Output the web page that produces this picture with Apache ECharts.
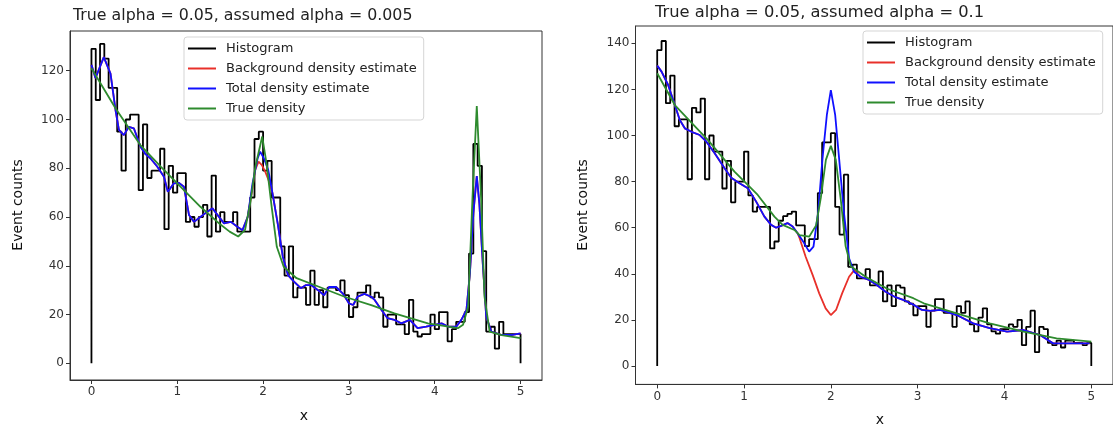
<!DOCTYPE html>
<html><head><meta charset="utf-8">
<script src="https://cdn.jsdelivr.net/npm/echarts@6/dist/echarts.min.js"></script>
<style>html,body{margin:0;padding:0;background:#fff}#c{width:1113px;height:426px}</style>
</head><body><div id="c"></div>
<script>
// ---- Data ----
const binStart = 0, binWidth = 0.05;
const xTicks = [0, 1, 2, 3, 4, 5];
const yTicksLeft = [0, 20, 40, 60, 80, 100, 120];
const yTicksRight = [0, 20, 40, 60, 80, 100, 120, 140];
const titleLeft = 'True alpha = 0.05, assumed alpha = 0.005';
const titleRight = 'True alpha = 0.05, assumed alpha = 0.1';
const seriesNames = ['Histogram', 'Background density estimate', 'Total density estimate', 'True density'];

// Left panel histogram counts (100 bins on [0,5])
const histLeft = [129,108,131,125,113,113,95,79,100,102,
  102,71,98,76,79,79,88,55,81,70,
  78,78,58,60,56,60,65,52,77,54,
  62,58,58,62,54,54,54,68,92,95,
  79,83,68,68,48,36,48,27,31,31,
  24,38,24,30,23,31,31,30,34,28,
  19,23,29,29,32,27,29,27,15,20,
  20,16,16,12,26,13,11,12,12,20,
  14,21,21,9,14,17,17,21,45,90,
  81,46,13,15,6,17,12,12,12,12];
// Left panel curves
const trueLeftX = [0,0.28,0.57,0.81,1.04,1.27,1.5,1.61,1.71,1.79,1.85,1.91,1.99,2.04,2.10,2.16,2.24,2.39,2.65,2.95,3.26,3.53,3.92,4.27,4.33,4.39,4.44,4.49,4.54,4.58,4.64,4.78,5.0];
const trueLeftY = [121,104.6,89.5,80.6,72.4,64.2,57,54,52,54.7,65.6,80.6,93,82,64.2,47.8,39.6,34.9,31.4,27.3,23.9,20.5,16.4,14.4,15.8,23.3,68,105.5,68,27.3,13,11.6,10.3];
const totalLeftX = [0,0.047,0.144,0.222,0.28,0.32,0.377,0.436,0.494,0.572,0.63,0.689,0.768,0.845,0.89,0.96,1.02,1.078,1.137,1.195,1.273,1.35,1.41,1.466,1.545,1.624,1.70,1.76,1.82,1.877,1.936,1.966,2.01,2.06,2.11,2.17,2.23,2.29,2.36,2.44,2.5,2.56,2.64,2.71,2.77,2.85,2.93,3.0,3.05,3.10,3.18,3.26,3.30,3.38,3.45,3.53,3.61,3.71,3.80,3.90,4.0,4.08,4.16,4.25,4.31,4.37,4.41,4.45,4.49,4.52,4.56,4.60,4.66,4.78,4.89,5.0];
const totalLeftY = [122.4,117,125.6,118.8,104,95.7,93.6,97,96.4,88.8,85.8,84,80.6,76.5,70.4,73.8,74,72.4,60.8,58,60.1,62.2,63.6,61,57.4,58,56,54.6,60,73.8,84,86.8,84,79.3,69.7,57.4,43.7,36.2,33.5,30.8,32.1,32.1,30,27.9,31.3,31.3,28.6,24.6,23.9,27.3,28.5,27.3,26,21.9,18.5,17.8,16.4,17.8,14.4,15,15.8,16.4,15,15,17.8,21.9,37,61.5,76.8,65.6,41,19.1,13,11.6,11.6,12.3];
const bgLeftX = [0,0.047,0.144,0.222,0.28,0.32,0.377,0.436,0.494,0.572,0.63,0.689,0.768,0.845,0.89,0.96,1.02,1.078,1.137,1.195,1.273,1.35,1.41,1.466,1.545,1.624,1.70,1.76,1.82,1.877,1.908,1.947,1.986,2.025,2.063,2.11,2.17,2.23,2.29,2.36,2.44,2.5,2.56,2.64,2.71,2.77,2.85,2.93,3.0,3.05,3.10,3.18,3.26,3.30,3.38,3.45,3.53,3.61,3.71,3.80,3.90,4.0,4.08,4.16,4.25,4.31,4.37,4.41,4.45,4.49,4.52,4.56,4.60,4.66,4.78,4.89,5.0];
const bgLeftY = [122.4,117,125.6,118.8,104,95.7,93.6,97,96.4,88.8,85.8,84,80.6,76.5,70.4,73.8,74,72.4,60.8,58,60.1,62.2,63.6,61,57.4,58,56,54.6,60,72,79.3,82.7,81.3,78.6,75.2,69.7,57.4,43.7,36.2,33.5,30.8,32.1,32.1,30,27.9,31.3,31.3,28.6,24.6,23.9,27.3,28.5,27.3,26,21.9,18.5,17.8,16.4,17.8,14.4,15,15.8,16.4,15,15,17.8,21.9,37,61.5,76.8,65.6,41,19.1,13,11.6,11.6,12.3];

// Right panel histogram counts
const histRight = [137,141,114,126,104,107,107,81,112,110,
  116,81,100,93,93,77,89,71,80,80,
  93,74,67,69,69,69,51,54,63,65,
  66,67,61,61,52,55,55,75,97,97,
  101,69,57,83,43,44,38,38,42,35,
  35,41,28,35,26,35,34,28,27,22,
  26,26,17,24,29,29,23,23,17,26,
  23,28,18,15,21,25,18,15,14,16,
  16,18,17,20,9,17,24,6,17,16,
  10,9,11,8,11,11,10,10,9,10];
const trueRightX = [0,0.203,0.585,0.89,1.158,1.35,1.445,1.58,1.64,1.75,1.83,1.885,1.943,2.0,2.057,2.115,2.17,2.23,2.40,2.65,2.95,3.07,3.45,3.83,4.22,4.60,5.0];
const trueRightY = [127,113.2,98,84.3,74.2,64.8,61.2,59,56.8,56.1,61,73,89.4,95.5,89.4,72,52,43.3,38.7,33.5,29.4,27.2,22.8,18.5,14.9,12,10.6];
const totalRightX = [0,0.05,0.126,0.203,0.26,0.318,0.395,0.49,0.567,0.662,0.776,0.853,0.948,1.044,1.14,1.235,1.312,1.37,1.427,1.50,1.56,1.617,1.694,1.75,1.80,1.854,1.904,1.954,2.0,2.05,2.095,2.15,2.21,2.267,2.34,2.44,2.53,2.63,2.73,2.84,2.955,3.05,3.15,3.26,3.45,3.64,3.83,4.03,4.22,4.41,4.56,4.75,4.98];
const totalRightY = [130.3,127.7,121.9,113.2,106.7,103.1,101.6,100.2,97.3,92.3,85.8,81.7,79.3,77.1,71.3,64.8,61.2,60,60.8,62,60.5,57.6,53.2,49.6,51.8,66.9,90.1,108.9,119.7,108.9,90.1,66.9,46.7,40.9,38.7,37.3,35.1,32.2,30.1,28.6,26.5,24.3,23.9,24.3,22.1,18.5,16.4,14.9,15.6,13.4,9.8,9.8,9.8];
const bgRightX = [0,0.05,0.126,0.203,0.26,0.318,0.395,0.49,0.567,0.662,0.776,0.853,0.948,1.044,1.14,1.235,1.312,1.37,1.427,1.50,1.56,1.617,1.64,1.71,1.79,1.866,1.94,2.0,2.06,2.13,2.21,2.27,2.34,2.44,2.53,2.63,2.73,2.84,2.955,3.05,3.15,3.26,3.45,3.64,3.83,4.03,4.22,4.41,4.56,4.75,4.98];
const bgRightY = [130.3,127.7,121.9,113.2,106.7,103.1,101.6,100.2,97.3,92.3,85.8,81.7,79.3,77.1,71.3,64.8,61.2,60,60.8,62,60.5,57.6,55.4,47.4,39.5,31.5,25,22.1,24.3,31.5,38.7,41.6,38.7,37.3,35.1,32.2,30.1,28.6,26.5,24.3,23.9,24.3,22.1,18.5,16.4,14.9,15.6,13.4,9.8,9.8,9.8];

// ---- Build ----
const FONT = 'DejaVu Sans';
const COLORS = ['#000000', '#e8302a', '#1010ff', '#2e8b2e'];
function stepData(counts) {
  const pts = [[binStart, 0]];
  counts.forEach((c, i) => pts.push([binStart + i * binWidth, c]));
  const end = binStart + counts.length * binWidth;
  pts.push([end, counts[counts.length - 1]]);
  pts.push([end, 0]);
  return pts;
}
const zip = (xs, ys) => xs.map((x, i) => [x, ys[i]]);

function axisCommon(ticks) {
  return {
    splitLine: { show: false },
    axisLine: { show: true, onZero: false, lineStyle: { color: '#333', width: 1 } },
    axisTick: { show: true, inside: false, length: 4, customValues: ticks, lineStyle: { color: '#333' } },
    axisLabel: { customValues: ticks, fontFamily: FONT, fontSize: 12, color: '#333', margin: 6 }
  };
}
function xAxisCfg(idx) {
  return Object.assign({ type: 'value', gridIndex: idx, min: -0.25, max: 5.25 }, axisCommon(xTicks));
}
function yAxisCfg(idx, min, max, ticks) {
  return Object.assign({ type: 'value', gridIndex: idx, min: min, max: max }, axisCommon(ticks));
}
function lineSeries(name, data, idx, color, width, step) {
  const s = {
    name: name, type: 'line', xAxisIndex: idx, yAxisIndex: idx, data: data,
    symbol: 'none', showSymbol: false, color: color,
    lineStyle: { color: color, width: width }, silent: true, animation: false
  };
  if (step) s.step = 'end';
  return s;
}
function legendCfg(left, top) {
  return {
    show: true, data: seriesNames, orient: 'vertical', left: left, top: top,
    icon: 'rect', itemWidth: 28, itemHeight: 2, itemGap: 5,
    padding: [4, 7, 4, 4],
    backgroundColor: 'rgba(255,255,255,0.85)', borderColor: '#d5d5d5', borderWidth: 1, borderRadius: 3,
    textStyle: { fontFamily: FONT, fontSize: 13, color: '#222', lineHeight: 15, padding: [0, 0, 0, 5] },
    selectedMode: false
  };
}

const chart = echarts.init(document.getElementById('c'), null, { renderer: 'canvas' });
chart.setOption({
  backgroundColor: '#fff',
  animation: false,
  title: [
    { text: titleLeft, left: 68, top: 3, textStyle: { fontFamily: FONT, fontSize: 15.8, fontWeight: 'normal', color: '#222' } },
    { text: titleRight, left: 650, top: 0, textStyle: { fontFamily: FONT, fontSize: 16.3, fontWeight: 'normal', color: '#222' } }
  ],
  grid: [
    { left: 70, top: 31, width: 472, height: 349, show: true, borderColor: '#333', borderWidth: 1, backgroundColor: 'transparent' },
    { left: 635.5, top: 26, width: 479.6, height: 358.4, show: true, borderColor: '#333', borderWidth: 1, backgroundColor: 'transparent' }
  ],
  xAxis: [xAxisCfg(0), xAxisCfg(1)],
  yAxis: [yAxisCfg(0, -6.85, 136.3, yTicksLeft), yAxisCfg(1, -8, 147.5, yTicksRight)],
  legend: [legendCfg(184, 37), legendCfg(863, 31)],
  graphic: [
    { type: 'text', x: 18, y: 205, rotation: Math.PI / 2, style: { text: 'Event counts', fontFamily: FONT, fontSize: 14, fill: '#111', align: 'center', verticalAlign: 'middle' } },
    { type: 'text', x: 583, y: 205, rotation: Math.PI / 2, style: { text: 'Event counts', fontFamily: FONT, fontSize: 14, fill: '#111', align: 'center', verticalAlign: 'middle' } },
    { type: 'text', x: 304, y: 416, style: { text: 'x', fontFamily: FONT, fontSize: 14, fill: '#111', align: 'center', verticalAlign: 'middle' } },
    { type: 'text', x: 880, y: 420, style: { text: 'x', fontFamily: FONT, fontSize: 14, fill: '#111', align: 'center', verticalAlign: 'middle' } }
  ],
  series: [
    lineSeries(seriesNames[0], stepData(histLeft), 0, COLORS[0], 1.8, true),
    lineSeries(seriesNames[1], zip(bgLeftX, bgLeftY), 0, COLORS[1], 1.8),
    lineSeries(seriesNames[2], zip(totalLeftX, totalLeftY), 0, COLORS[2], 1.8),
    lineSeries(seriesNames[3], zip(trueLeftX, trueLeftY), 0, COLORS[3], 1.8),
    lineSeries(seriesNames[0], stepData(histRight), 1, COLORS[0], 1.8, true),
    lineSeries(seriesNames[1], zip(bgRightX, bgRightY), 1, COLORS[1], 1.8),
    lineSeries(seriesNames[2], zip(totalRightX, totalRightY), 1, COLORS[2], 1.8),
    lineSeries(seriesNames[3], zip(trueRightX, trueRightY), 1, COLORS[3], 1.8)
  ]
});
</script>
</body></html>
